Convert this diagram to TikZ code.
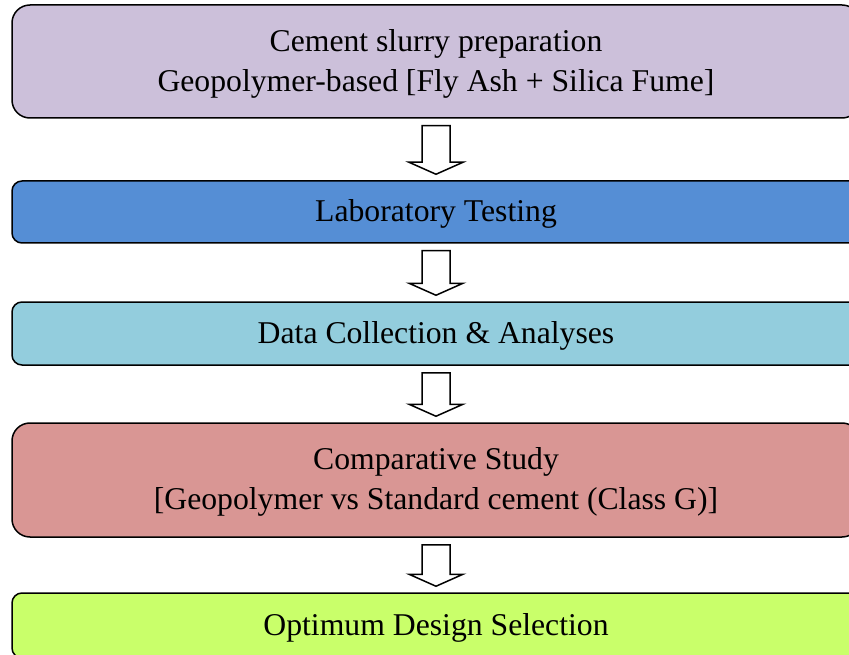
\documentclass[tikz,border=0pt]{standalone}
\usepackage{fontspec}
\setmainfont{Liberation Serif}
\usepackage{tikz}
\usetikzlibrary{calc}
\definecolor{slurry}{HTML}{CCC0DA}
\definecolor{labblue}{HTML}{558ED5}
\definecolor{datacyan}{HTML}{93CDDD}
\definecolor{comprose}{HTML}{D99694}
\definecolor{optlime}{HTML}{C9FF6A}
% one line of stage text, with the line height of the slide font
\newcommand{\stageline}[1]{\raisebox{1pt}[0.891em][0.216em]{#1}}

\tikzset{
  stage/.style={draw=black, line width=1.5pt, rounded corners=10pt, minimum width=848pt,
    inner sep=0pt, align=center, font=\fontsize{31.7}{40}\selectfont},
  tallstage/.style={stage, rounded corners=18pt},
  downarrow/.style={draw=black, line width=1.5pt, fill=white, line join=miter,
    to path={($(\tikztostart)+(-14,7)$) -- ($(\tikztostart)+(14,7)$)
      -- ($(\tikztotarget)+(14,-18)$) -- ($(\tikztotarget)+(27,-18)$)
      -- ($(\tikztotarget)+(0,-6)$) -- ($(\tikztotarget)+(-27,-18)$)
      -- ($(\tikztotarget)+(-14,-18)$) -- cycle}}
}

\begin{document}
\begin{tikzpicture}[x=1pt, y=-1pt]
\useasboundingbox (0,0) rectangle (849,655);
\clip (0,0) rectangle (849,655);

% Stages
\node[tallstage, fill=slurry, minimum height=113pt] (prep) at (436,61.5)
  {\stageline{Cement slurry preparation}\\\stageline{Geopolymer-based [Fly Ash + Silica Fume]}};
\node[stage, fill=labblue, minimum height=62pt] (lab) at (436,212) {\stageline{Laboratory Testing}};
\node[stage, fill=datacyan, minimum height=63pt] (data) at (436,333.5) {\stageline{Data Collection \& Analyses}};
\node[tallstage, fill=comprose, minimum height=114pt] (comp) at (436,480)
  {\stageline{Comparative Study}\\\stageline{[Geopolymer vs Standard cement (Class G)]}};
\node[stage, fill=optlime, minimum height=65pt] (opt) at (436,625.5) {\stageline{Optimum Design Selection}};

% Arrows
\draw[downarrow] (prep.south) to (lab.north);
\draw[downarrow] (lab.south) to (data.north);
\draw[downarrow] (data.south) to (comp.north);
\draw[downarrow] (comp.south) to (opt.north);

\end{tikzpicture}
\end{document}
